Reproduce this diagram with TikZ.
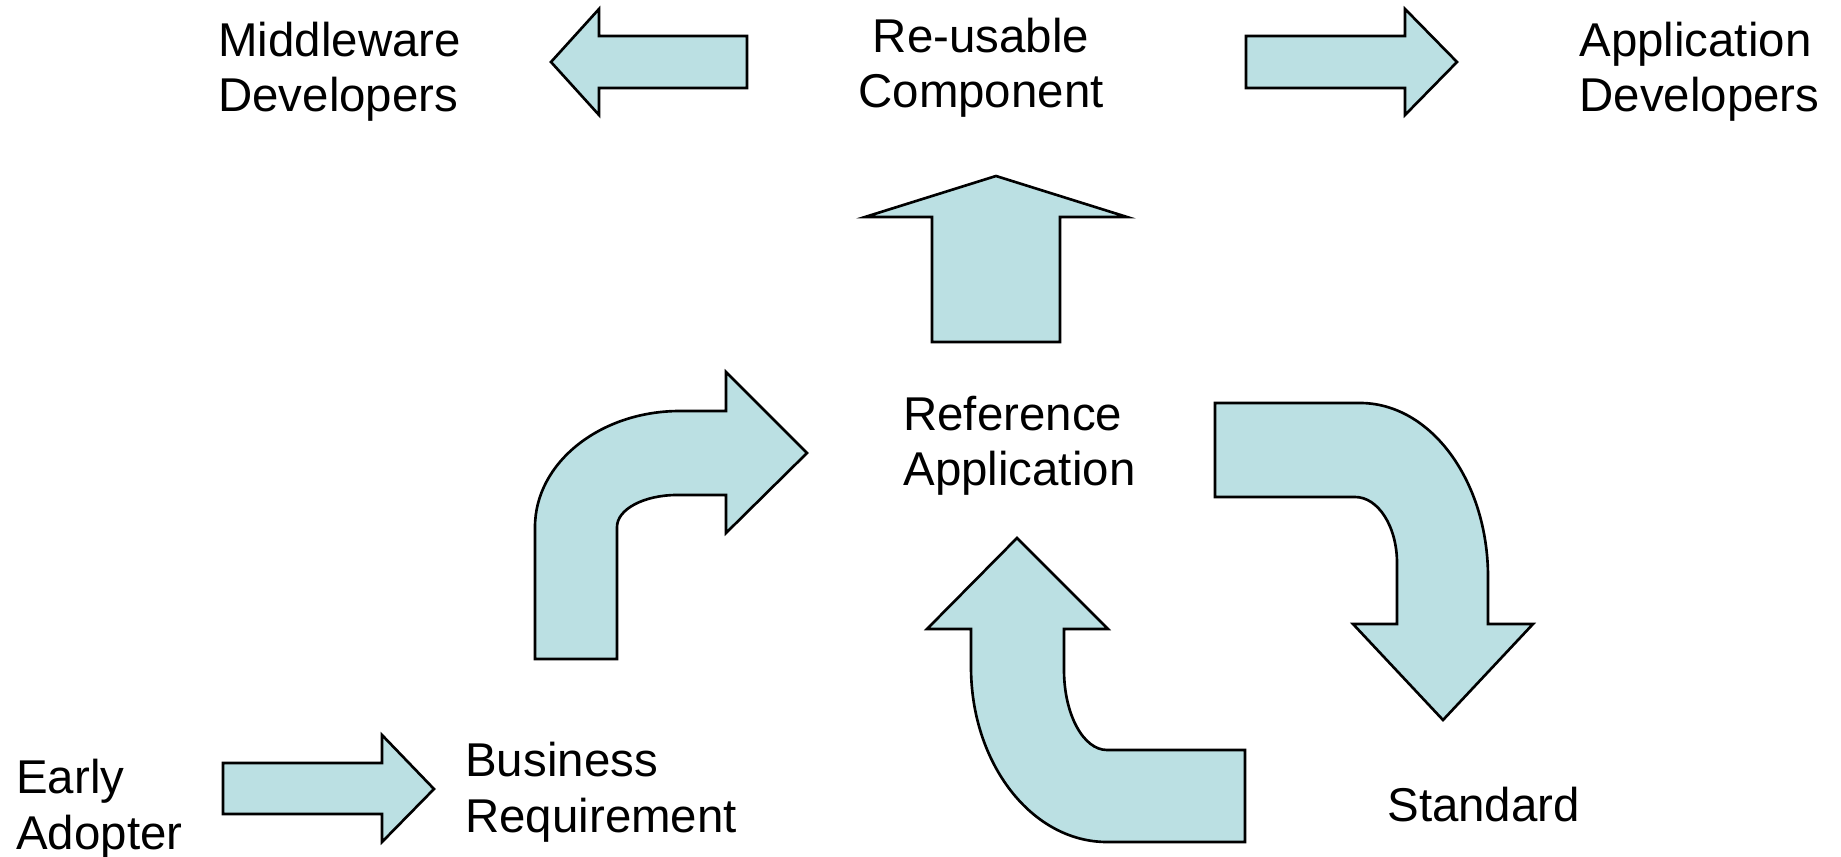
\documentclass[tikz,border=0pt]{standalone}
\usepackage{fontspec}
\setmainfont{Liberation Sans}
\usepackage{xcolor}
\usepackage{tikz}

\definecolor{arrowfill}{HTML}{BBE0E3}

\tikzset{
  blockarrow/.style={fill=arrowfill, draw=black, line width=1.5pt, line join=miter},
  lbl/.style={inner sep=0pt, anchor=base west, align=left,
    font=\fontsize{27}{31.5}\selectfont}
}

\begin{document}
\begin{tikzpicture}[x=0.02cm, y=-0.02cm]
      \useasboundingbox (0,0) rectangle (1841,857);

      \node[lbl] (middleware) at (218,112) {Middleware\\Developers};
      \node[lbl, anchor=base, align=center] (reusable) at (981,108) {Re-usable\\Component};
      \node[lbl] (appdev) at (1579,112) {Application\\Developers};
      \node[lbl] (refapp) at (903,486) {Reference\\Application};
      \node[lbl] (early) at (16,849) {Early\\Adopter};
      \node[lbl] (business) at (465,832) {Business\\Requirement};
      \node[lbl] (standard) at (1387,821) {Standard};

      % straight arrows
      \draw[blockarrow] (747,36) -- (599,36) -- (599,9) -- (551,62) -- (599,115) -- (599,88) -- (747,88) -- cycle;
      \draw[blockarrow] (1246,36) -- (1405,36) -- (1405,9) -- (1457,62) -- (1405,115) -- (1405,88) -- (1246,88) -- cycle;
      \draw[blockarrow] (932,342) -- (932,217) -- (865,217) -- (996,176) -- (1127,217) -- (1060,217) -- (1060,342) -- cycle;
      \draw[blockarrow] (223,763) -- (382,763) -- (382,735) -- (434,789) -- (382,842) -- (382,814) -- (223,814) -- cycle;

      % bent arrows
      \draw[blockarrow] (535,659) -- (535,527)
        arc[start angle=180, end angle=270, x radius=145, y radius=116]
        -- (726,411) -- (726,372) -- (807,453) -- (726,533) -- (726,495) -- (677,495)
        arc[start angle=270, end angle=180, x radius=60, y radius=32]
        -- (617,659) -- cycle;
      \draw[blockarrow] (1215,403) -- (1360,403)
        arc[start angle=270, end angle=360, x radius=128, y radius=174]
        -- (1488,624) -- (1533,624) -- (1443,720) -- (1353,624) -- (1397,624) -- (1397,563)
        arc[start angle=360, end angle=270, x radius=42, y radius=66]
        -- (1215,497) -- cycle;
      \draw[blockarrow] (1245,842) -- (1107,842)
        arc[start angle=90, end angle=180, x radius=136, y radius=175]
        -- (971,629) -- (927,629) -- (1017,538) -- (1108,629) -- (1064,629) -- (1064,670)
        arc[start angle=180, end angle=90, x radius=43, y radius=80]
        -- (1245,750) -- cycle;
    \end{tikzpicture}
\end{document}
